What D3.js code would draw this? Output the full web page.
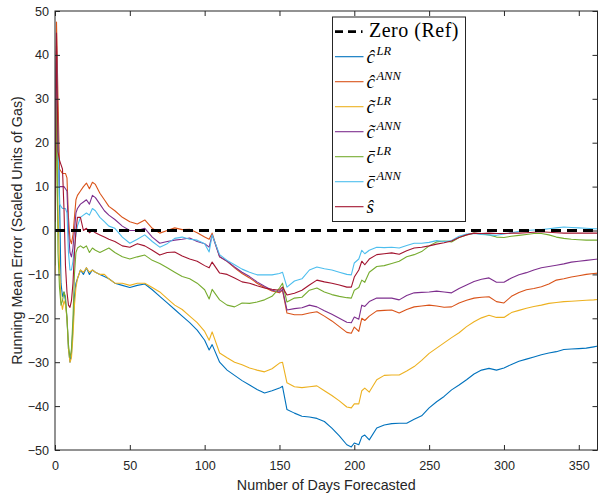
<!DOCTYPE html>
<html>
<head>
<meta charset="utf-8">
<script src="https://cdn.jsdelivr.net/npm/d3@7/dist/d3.min.js"></script>
<style>
body { margin: 0; background: #fff; }
svg { display: block; }
</style>
</head>
<body>
<div class="one"></div>
<script>
let days = [0,1,2,3,4,5,6,7,8,9,10,11,12,13,14,15,17,19,21,23,25,27,30,33,36,
  40,45,50,55,60,65,70,75,80,85,90,95,100,103,105,110,115,120,125,130,135,140,145,150,152,
  155,160,165,170,175,180,185,190,195,198,200,203,205,207,
  210,215,220,225,230,235,240,245,250,255,260,265,270,275,280,285,290,295,300,305,310,315,320,325,330,335,340,345,350,355,360,363];

let cHatLR = [20,41,25,8,-12,-15,-14,-16,-20,-27,-30,-28,-22,-15,-12,-11,-9,-10,-8.5,-10,-9,-9.5,-10,-10.5,-11,
  -12,-12.5,-13,-12.5,-12.2,-13.5,-15,-16.5,-18,-19.5,-21,-22.7,-25,-27.2,-26,-30,-31.8,-33,-34.2,-35.2,-36.2,-37,-36.5,-35.9,-35.5,
  -40.8,-41.6,-42.3,-42.5,-42.8,-43.5,-45,-46.8,-48.8,-49.3,-48.4,-48.8,-47,-46.6,
  -47.7,-45,-44.3,-44,-43.9,-43.9,-43,-42.2,-40.4,-39,-37.8,-36.3,-35.2,-34,-32.7,-31.8,-31.4,-31.8,-31.3,-30.5,-29.8,-29.3,-28.8,-28.3,-27.9,-27.6,-27.1,-27,-26.9,-26.8,-26.5,-26.3];

let cHatANN = [10,47.5,30,14,13.5,13,13,13,12,3,-2,-3,-1,3,7,8,9,10,10.8,9.5,11,10.5,8.5,7,5.5,
  4.5,3,2,1.5,2.4,0.5,-0.6,0,0.6,0.2,0.3,-0.5,-1.5,-2,-0.6,-6,-7,-8.5,-9.8,-10.8,-12,-13,-13.8,-14.2,-13.6,
  -18.8,-19.2,-19.2,-18.8,-18.5,-19.5,-20.6,-21.9,-23.2,-23.4,-22,-23,-20,-20.5,
  -19.5,-18.3,-18.2,-18.1,-18.8,-18,-17.4,-17.2,-17,-17.2,-17.5,-17.4,-16.5,-15.9,-15.4,-15.2,-15.1,-16.2,-16.5,-15,-14.1,-13.5,-13.2,-12.8,-12.2,-11.3,-11,-10.6,-10.3,-10,-9.8,-9.7];

let cTildeLR = [-10,35,5,-8,-16,-18,-16,-17,-20,-27,-30,-29,-24,-17,-13,-11,-9,-9.5,-8.5,-9.5,-9,-9.5,-10,-10,-11,
  -12,-12,-12.5,-12,-12,-13,-14,-15.5,-17,-18,-19.5,-21,-23,-25,-23.1,-27.9,-29,-30,-30.6,-31.3,-31.8,-32.2,-31.5,-30.2,-30,
  -34.7,-35.6,-35.8,-35.6,-35.4,-36.5,-37.6,-38.8,-40.2,-40.4,-39.5,-39.5,-36.5,-35.9,
  -36.8,-34,-33,-32.9,-32.9,-32,-31,-29.6,-28,-26.8,-25.6,-24.4,-23.3,-21.9,-20.8,-19.9,-19.3,-19.8,-19.8,-18.7,-18.2,-17.7,-17.3,-17,-16.6,-16.4,-16.2,-16.1,-16,-15.9,-15.8,-15.7];

let cTildeANN = [5,42,18,10,10,10,10,9.5,9,0,-5,-6,-4,0,4,5,6,6.5,7,6,8,7.5,6,4.5,3.5,
  2.5,1,0,0,0.5,-1.5,-2.9,-2.5,-2.2,-2,-1.7,-2.5,-3,-3.8,-1,-6,-7,-8.3,-9.5,-10.5,-11.7,-12.7,-13.6,-14,-13.4,
  -18.1,-17.8,-17.6,-17,-17.4,-18.3,-19.1,-20,-20.9,-21,-19.7,-20.2,-17,-17.3,
  -16.2,-15.4,-15.4,-15.4,-15.8,-14.8,-14.2,-14.1,-14,-13.8,-14,-14.2,-13.2,-12.4,-11.6,-11.1,-10.8,-11.8,-11.8,-10.8,-10.1,-9.6,-9,-8.5,-8.2,-7.9,-7.6,-7.2,-7,-6.8,-6.6,-6.5];

let cBarLR = [-8,30,-5,-13,-17,-16,-14,-15,-20,-26,-29,-27,-20,-10,-5,-4,-3.5,-4,-3.5,-5,-4,-4.5,-5,-4.5,-4,
  -5,-6,-6.5,-6,-5.6,-6.8,-7.5,-8.5,-9.5,-10.5,-11,-12,-13.5,-15.6,-13.4,-15.8,-17,-17.4,-16.5,-16.6,-16.3,-15.8,-15,-13.1,-12,
  -16.3,-15.4,-15.2,-13.6,-13.1,-14,-14.6,-15,-15.3,-15.4,-13.6,-13,-11.3,-11.8,
  -9.5,-8.2,-8,-7.5,-7,-6,-5.5,-4.8,-3.5,-2.6,-2.4,-2.6,-1.6,-1,-0.6,-0.8,-1,-1.5,-1.6,-1.3,-1.1,-0.9,-0.7,-0.7,-1,-1.5,-1.8,-2,-2.1,-2.2,-2.2,-2.2];

let cBarANN = [15,40,20,6,5.5,5,5,5,4,-5,-9,-9,-7,-4,-1,1,3,3.5,4,3.5,5,4.5,3,2,1,
  0.5,-1.5,-2.9,-2,-1,-2.5,-3.8,-3,-1.8,-1.5,-2,-2.2,-3,-4.9,-1,-5.5,-6.8,-7.8,-8.8,-9.5,-10.1,-10.1,-10.1,-9.8,-9.5,
  -12.9,-11.5,-11,-9,-8.3,-8.7,-9,-9.5,-10,-10.1,-7.4,-6.5,-4.5,-5.3,
  -4.5,-3.8,-3.9,-3.8,-4,-3.4,-2.9,-2.9,-2.7,-2.3,-2.5,-2.3,-1.3,-0.8,-0.7,-0.9,-1,-1.1,-0.8,-0.5,-0.2,0,0.1,0.2,0.4,0.6,0.8,0.7,0.6,0.5,0.4,0.4];

let sHat = [2,45,18,16,15,14,5,-8,-14,-17,-17.5,-16,-12,-5,0,3,3,0,0.5,-0.5,0,-0.5,-1,-1.5,-2,
  -2.5,-3.5,-3.8,-3,-3.5,-4.5,-5.6,-5,-4.9,-5.8,-6.5,-7,-8,-8.5,-7.2,-9.7,-10,-10.8,-11.7,-12,-12.6,-13.1,-13.4,-13.6,-12.9,
  -14.7,-14.3,-13.6,-12.4,-11.3,-11.7,-12,-12.4,-12.9,-12.9,-10.6,-9,-7,-7.8,
  -6.5,-5.5,-5.3,-5.1,-5.4,-4.6,-4,-3.8,-3.5,-3.1,-2.8,-2.4,-1.6,-1,-0.6,-0.7,-0.6,-0.7,-0.7,-0.6,-0.6,-0.5,-0.4,-0.3,-0.4,-0.5,-0.6,-0.6,-0.6,-0.6,-0.6,-0.6];

let zeroRef = 0;
let xTicks = [0,50,100,150,200,250,300,350];
let yTicks = [-50,-40,-30,-20,-10,0,10,20,30,40,50];
let xDomain = [0, 362.5];
let yDomain = [-50, 50];

// legend text pieces
let zeroLabel = "Zero (Ref)";
let legendGlyphs = ["\u0109", "\u0109", "c\u0303", "c\u0303", "c\u0304", "c\u0304", "\u015D"];
let legendSups = ["LR", "ANN", "LR", "ANN", "LR", "ANN", ""];

let plot_chart = function() {
  let width = 598, height = 494;
  let margin = {top: 11, left: 55, right: 0.5, bottom: 44};
  let w = width - margin.left - margin.right;
  let h = height - margin.top - margin.bottom;
  let axisColor = "#262626";
  let colors = ["#0072BD", "#D95319", "#EDB120", "#7E2F8E", "#77AC30", "#4DBEEE", "#A2142F"];
  let seriesList = [cHatLR, cHatANN, cTildeLR, cTildeANN, cBarLR, cBarANN, sHat];

  let xScale = d3.scaleLinear().domain(xDomain).range([0, w]);
  let yScale = d3.scaleLinear().domain(yDomain).range([h, 0]);

  let svg = d3.select(".one").append("svg")
  .attr("width", width)
  .attr("height", height)
  .style("font-family", "'Liberation Sans', Arial, Helvetica, sans-serif");

  let g = svg.append("g")
  .attr("transform", "translate(" + margin.left + "," + margin.top + ")");

  g.append("clipPath").attr("id", "plotclip")
  .append("rect").attr("width", w).attr("height", h);

  // series lines
  let line = d3.line()
  .x(function(d) { return xScale(d[0]); })
  .y(function(d) { return yScale(d[1]); });

  let lines = g.append("g").attr("clip-path", "url(#plotclip)");
  seriesList.forEach(function(s, i) {
    lines.append("path")
    .datum(d3.zip(days, s))
    .attr("d", line)
    .attr("fill", "none")
    .attr("stroke", colors[i])
    .attr("stroke-width", 1.1)
    .attr("stroke-linejoin", "round");
  });

  // zero reference
  lines.append("path")
  .datum(xDomain.map(function(x) { return [x, zeroRef]; }))
  .attr("d", line)
  .attr("fill", "none")
  .attr("stroke", "#000")
  .attr("stroke-width", 2.8)
  .attr("stroke-dasharray", "10,6");

  // axes, ticks pointing inwards on all four sides
  let xAxis = d3.axisBottom(xScale).tickValues(xTicks).tickSizeInner(-5).tickSizeOuter(0).tickPadding(11);
  let yAxis = d3.axisLeft(yScale).tickValues(yTicks).tickSizeInner(-5).tickSizeOuter(0).tickPadding(6);
  let xTop = d3.axisTop(xScale).tickValues(xTicks).tickSizeInner(-5).tickSizeOuter(0).tickFormat("");
  let yRight = d3.axisRight(yScale).tickValues(yTicks).tickSizeInner(-5).tickSizeOuter(0).tickFormat("");

  let axes = [
    g.append("g").attr("transform", "translate(0," + h + ")").call(xAxis),
    g.append("g").call(yAxis),
    g.append("g").call(xTop),
    g.append("g").attr("transform", "translate(" + w + ",0)").call(yRight)
  ];
  axes.forEach(function(a) {
    a.select(".domain").remove();
    a.selectAll(".tick line").attr("stroke", axisColor);
    a.selectAll(".tick text").attr("fill", axisColor).style("font-size", "12.6px");
    a.attr("font-family", null);
  });

  g.append("rect")
  .attr("x", 0).attr("y", 0)
  .attr("width", w).attr("height", h)
  .attr("fill", "none")
  .attr("stroke", axisColor)
  .attr("stroke-width", 1);

  // axis titles
  svg.append("text")
  .attr("x", margin.left + w / 2)
  .attr("y", 490)
  .attr("text-anchor", "middle")
  .attr("fill", axisColor)
  .style("font-size", "14.3px")
  .text("Number of Days Forecasted");

  svg.append("text")
  .attr("transform", "translate(22," + (margin.top + h / 2) + ") rotate(-90)")
  .attr("text-anchor", "middle")
  .attr("fill", axisColor)
  .style("font-size", "14.3px")
  .text("Running Mean Error (Scaled Units of Gas)");

  // legend
  let leg = svg.append("g").attr("transform", "translate(332.5,17)");
  leg.append("rect")
  .attr("width", 133).attr("height", 204.5)
  .attr("fill", "#fff")
  .attr("stroke", axisColor)
  .attr("stroke-width", 1);

  let rowY = function(i) { return 14.7 + i * 25; };

  leg.append("line")
  .attr("x1", 2.5).attr("x2", 30)
  .attr("y1", rowY(0)).attr("y2", rowY(0))
  .attr("stroke", "#000")
  .attr("stroke-width", 2.8)
  .attr("stroke-dasharray", "8,5");

  leg.append("text")
  .attr("x", 36.5).attr("y", rowY(0) + 5.6)
  .style("font-family", "'Liberation Serif', 'Times New Roman', serif")
  .style("font-size", "20px")
  .style("letter-spacing", "0.5px")
  .attr("fill", "#000")
  .text(zeroLabel);

  legendGlyphs.forEach(function(glyph, i) {
    let y = rowY(i + 1);
    leg.append("line")
    .attr("x1", 2.5).attr("x2", 31)
    .attr("y1", y).attr("y2", y)
    .attr("stroke", colors[i])
    .attr("stroke-width", 1.1);

    let t = leg.append("text")
    .attr("x", 34).attr("y", y + 6)
    .style("font-family", "'Liberation Serif', 'Times New Roman', serif")
    .style("font-style", "italic")
    .style("font-size", "19px")
    .attr("fill", "#000");
    t.append("tspan").text(glyph);
    if (legendSups[i]) {
      t.append("tspan")
      .attr("dx", 1.5)
      .attr("dy", -8)
      .style("font-size", "12.5px")
      .text(legendSups[i]);
    }
  });
};

window.onload = plot_chart;
</script>
</body>
</html>
